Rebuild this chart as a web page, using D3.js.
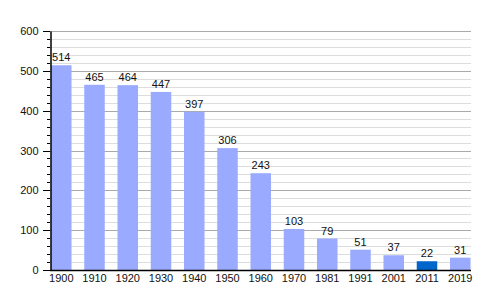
<!DOCTYPE html>
<html>
<head>
<meta charset="utf-8">
<title>population</title>
<style>
  body { margin: 0; background: #fff; }
  text { font-family: "Liberation Sans", Arial, sans-serif; font-size: 11px; fill: #111; }
</style>
</head>
<body>
<svg width="500" height="300"></svg>
<script src="https://d3js.org/d3.v7.min.js"></script>
<script>

    var years = ["1900", "1910", "1920", "1930", "1940", "1950", "1960", "1970", "1981", "1991", "2001", "2011", "2019"];
    var population = [514, 465, 464, 447, 397, 306, 243, 103, 79, 51, 37, 22, 31];
    var highlightYear = "2011";
    var yTicks = [0, 100, 200, 300, 400, 500, 600];

    var svg = d3.select("svg"),
        plotLeft = 50, plotRight = 471, plotTop = 31, plotBottom = 270;

    var x = d3.scaleBand()
        .domain(years)
        .range([51, 470.5])
        .paddingInner(0.383)
        .paddingOuter(0)
        .align(0);

    var y = d3.scaleLinear()
        .domain([0, 600])
        .range([plotBottom, plotTop]);

    // grid: light lines every 20, darker every 100
    var minor = d3.range(20, 601, 20).filter(function (v) { return v % 100 !== 0; });
    svg.append("g").selectAll("line")
        .data(minor)
        .enter().append("line")
        .attr("x1", plotLeft).attr("x2", plotRight)
        .attr("y1", function (d) { return Math.round(y(d)) + 0.5; })
        .attr("y2", function (d) { return Math.round(y(d)) + 0.5; })
        .attr("stroke", "#dddddd");

    svg.append("g").selectAll("line")
        .data(yTicks.slice(1))
        .enter().append("line")
        .attr("x1", plotLeft).attr("x2", plotRight)
        .attr("y1", function (d) { return Math.round(y(d)) + 0.5; })
        .attr("y2", function (d) { return Math.round(y(d)) + 0.5; })
        .attr("stroke", "#aaaaaa");

    // bars
    svg.append("g").selectAll("rect")
        .data(years)
        .enter().append("rect")
        .attr("x", function (d) { return x(d); })
        .attr("width", x.bandwidth())
        .attr("y", function (d, i) { return y(population[i]); })
        .attr("height", function (d, i) { return plotBottom - y(population[i]); })
        .attr("fill", function (d) { return d === highlightYear ? "#0066cc" : "#99aaff"; });

    // value labels
    svg.append("g").selectAll("text")
        .data(years)
        .enter().append("text")
        .attr("x", function (d) { return x(d) + x.bandwidth() / 2; })
        .attr("y", function (d, i) { return y(population[i]) - 4; })
        .attr("text-anchor", "middle")
        .text(function (d, i) { return population[i]; });

    // y axis
    var yAxis = svg.append("g")
        .attr("transform", "translate(" + (plotLeft + 0.5) + ",0)")
        .call(d3.axisLeft(y).tickValues(yTicks).tickSize(0).tickPadding(12));
    yAxis.select(".domain").attr("stroke", "#000").attr("stroke-width", 1.5);
    yAxis.selectAll("text").attr("font-size", 11).attr("font-family", "Liberation Sans, Arial, sans-serif");

    // small ticks on the axis every 20
    svg.append("g").selectAll("line")
        .data(d3.range(0, 601, 20))
        .enter().append("line")
        .attr("x1", function (d) { return d % 100 === 0 ? plotLeft - 7 : plotLeft - 3; })
        .attr("x2", plotLeft)
        .attr("y1", function (d) { return Math.round(y(d)) + 0.5; })
        .attr("y2", function (d) { return Math.round(y(d)) + 0.5; })
        .attr("stroke", "#000");

    // x axis
    var xAxis = svg.append("g")
        .attr("transform", "translate(0," + plotBottom + ")")
        .call(d3.axisBottom(x).tickSize(0).tickPadding(4));
    xAxis.select(".domain").remove();
    xAxis.selectAll("text").attr("font-size", 11).attr("font-family", "Liberation Sans, Arial, sans-serif");
    svg.append("line")
        .attr("x1", plotLeft).attr("x2", plotRight)
        .attr("y1", plotBottom + 0.5).attr("y2", plotBottom + 0.5)
        .attr("stroke", "#000").attr("stroke-width", 1.5);

</script>
</body>
</html>
